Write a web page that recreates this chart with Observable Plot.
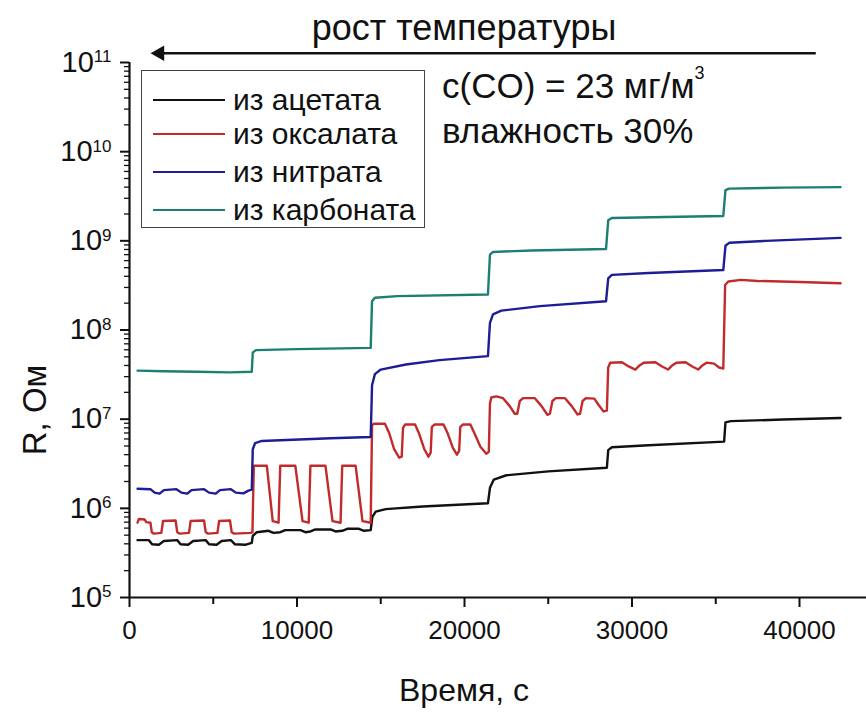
<!DOCTYPE html>
<html>
<head>
<meta charset="utf-8">
<script src="https://cdn.jsdelivr.net/npm/d3@7"></script>
<script src="https://cdn.jsdelivr.net/npm/@observablehq/plot@0.6"></script>
<style>
  body { margin: 0; background: #fff; }
  #wrap { position: relative; width: 866px; height: 718px; font-family: "Liberation Sans", Arial, sans-serif; color: #111; }
  #legend { position: absolute; left: 141px; top: 70px; width: 284px; height: 158px; border: 1.3px solid #444; box-sizing: border-box; background: #fff; }
  .item { position: absolute; left: 11px; height: 34px; display: flex; align-items: center; font-size: 30px; white-space: nowrap; }
  .swatch { width: 72px; height: 0; border-top: 2px solid; margin-right: 8px; }
  .note { position: absolute; font-size: 35px; line-height: 38px; white-space: nowrap; }
  .note sup { font-size: 18px; position: relative; top: -6px; line-height: 0; }
</style>
</head>
<body>
<div id="wrap"></div>
<script>
// ---- data (time, s ; R, Ohm) ----
const seriesNames = ["из ацетата", "из оксалата", "из нитрата", "из карбоната"];
const seriesColors = ["#111111", "#c12b2b", "#1d1d96", "#1c7f73"];

const acetate = [
  [480,4.4e5],[1150,4.4e5],[1350,3.95e5],[1750,3.9e5],[2050,4.3e5],[2850,4.4e5],[3050,3.95e5],[3500,3.9e5],
  [3800,4.3e5],[4550,4.4e5],[4750,3.95e5],[5200,3.9e5],[5500,4.3e5],[6050,4.4e5],[6300,3.95e5],[6900,3.9e5],[7300,4.1e5],
  [7360,4.9e5],[7600,5.4e5],[8300,5.6e5],[8600,5.3e5],[9000,5.4e5],[9300,5.7e5],[10200,5.7e5],[10500,5.4e5],
  [10800,5.5e5],[11100,5.8e5],[12000,5.8e5],[12300,5.5e5],[12700,5.6e5],[13000,5.9e5],[13700,5.9e5],[14000,5.6e5],[14400,5.7e5],
  [14500,8.0e5],[14700,9.2e5],[15300,9.8e5],[17500,1.05e6],[21400,1.14e6],
  [21520,1.7e6],[21750,2.1e6],[22500,2.35e6],[25000,2.6e6],[28500,2.85e6],
  [28580,4.5e6],[28800,4.85e6],[31000,5.1e6],[35500,5.6e6],
  [35580,9.2e6],[35900,9.5e6],[39000,9.9e6],[42450,1.03e7]
];

const oxalate = [
  [480,6.9e5],[560,7.6e5],[900,7.5e5],[1000,7.0e5],[1250,6.9e5],[1330,5.4e5],[1450,5.2e5],[1900,5.3e5],
  [2000,7.2e5],[2750,7.3e5],[2850,5.4e5],[3000,5.2e5],[3550,5.3e5],[3650,7.2e5],[4450,7.3e5],[4550,5.4e5],
  [4700,5.2e5],[5250,5.3e5],[5350,7.2e5],[6000,7.3e5],[6100,5.4e5],[6250,5.2e5],[7250,5.3e5],
  [7340,5.4e5],[7420,3.0e6],[8200,3.0e6],[8550,7.2e5],[8900,6.9e5],[9000,3.0e6],[9900,3.0e6],[10330,7.2e5],
  [10700,6.9e5],[10800,3.0e6],[11700,3.0e6],[12120,7.2e5],[12600,6.9e5],[12700,3.0e6],[13500,3.0e6],
  [13910,7.2e5],[14400,6.9e5],
  [14480,8.5e6],[14600,8.9e6],[15250,8.9e6],[15500,7.0e6],[15800,4.6e6],[16100,3.7e6],[16250,3.8e6],
  [16330,8.0e6],[16450,8.7e6],[17050,8.7e6],[17300,6.8e6],[17600,4.6e6],[17850,3.8e6],[17980,4.2e6],
  [18050,8.2e6],[18200,8.7e6],[18750,8.7e6],[19000,6.9e6],[19300,4.8e6],[19550,4.0e6],[19680,4.4e6],
  [19750,8.2e6],[19900,8.7e6],[20350,8.7e6],[20600,6.9e6],[20950,4.9e6],[21300,4.1e6],[21450,4.3e6],
  [21520,1.5e7],[21600,1.75e7],[21900,1.8e7],[22300,1.72e7],[22700,1.4e7],[23000,1.15e7],[23150,1.15e7],
  [23300,1.6e7],[23500,1.72e7],[24200,1.72e7],[24600,1.4e7],[24950,1.12e7],[25100,1.15e7],[25250,1.6e7],
  [25450,1.72e7],[26000,1.72e7],[26400,1.4e7],[26750,1.13e7],[26900,1.15e7],[27050,1.6e7],[27250,1.72e7],
  [27750,1.7e7],[28000,1.45e7],[28300,1.22e7],[28500,1.25e7],
  [28580,3.8e7],[28700,4.3e7],[29400,4.35e7],[29800,3.9e7],[30200,3.6e7],[30450,4.0e7],[30700,4.3e7],
  [31400,4.35e7],[31800,3.9e7],[32150,3.6e7],[32400,4.0e7],[32650,4.3e7],[33200,4.35e7],[33600,3.9e7],
  [33950,3.6e7],[34200,4.0e7],[34450,4.3e7],[34900,4.2e7],[35200,3.8e7],[35450,3.7e7],
  [35560,3.2e8],[35750,3.5e8],[36500,3.65e8],[37500,3.55e8],[40000,3.45e8],[42450,3.35e8]
];

const nitrate = [
  [480,1.66e6],[1250,1.64e6],[1500,1.5e6],[1800,1.46e6],[2050,1.6e6],[2800,1.64e6],[3100,1.5e6],[3450,1.46e6],
  [3700,1.6e6],[4450,1.64e6],[4750,1.5e6],[5150,1.46e6],[5400,1.6e6],[6050,1.64e6],[6350,1.5e6],[6800,1.47e6],
  [7100,1.58e6],[7300,1.62e6],
  [7360,4.6e6],[7500,5.4e6],[7900,5.7e6],[9000,5.8e6],[10500,5.95e6],[12000,6.1e6],[14400,6.3e6],
  [14480,2.4e7],[14650,3.2e7],[15000,3.6e7],[16500,4.1e7],[18500,4.6e7],[21400,5.1e7],
  [21520,1.2e8],[21700,1.5e8],[22200,1.65e8],[24500,1.85e8],[28450,2.1e8],
  [28580,3.8e8],[28800,4.15e8],[31000,4.35e8],[35450,4.7e8],
  [35580,8.8e8],[35800,9.5e8],[38000,1.0e9],[42450,1.08e9]
];

const carbonate = [
  [480,3.5e7],[2000,3.45e7],[4000,3.4e7],[6000,3.35e7],[7300,3.4e7],
  [7360,5.6e7],[7550,5.95e7],[10000,6.1e7],[14400,6.3e7],
  [14480,2.1e8],[14650,2.3e8],[16000,2.4e8],[21400,2.5e8],
  [21520,7.0e8],[21700,7.5e8],[24000,7.8e8],[28450,8.1e8],
  [28580,1.7e9],[28800,1.8e9],[32000,1.85e9],[35450,1.9e9],
  [35580,3.7e9],[35800,3.85e9],[39000,3.95e9],[42450,4.0e9]
];

const xTicks = [0, 10000, 20000, 30000, 40000];
const xMinorTicks = [5000, 15000, 25000, 35000];
const yTicks = [1e5, 1e6, 1e7, 1e8, 1e9, 1e10, 1e11];
const yMinorMultipliers = [2, 3, 4, 5, 6, 7, 8, 9];

const titleText = "рост температуры";
const xLabel = "Время, с";
const yLabel = "R, Ом";
const arrowFrom = 41000, arrowTo = 1800, arrowLevel = 1.27e11;

// ---- build table ----
const allSeries = [acetate, oxalate, nitrate, carbonate];
const rows = [];
allSeries.forEach((s, i) => s.forEach(([t, r]) => rows.push({t, r, name: seriesNames[i]})));
const yMinorTicks = [];
yTicks.slice(0, -1).forEach(d => yMinorMultipliers.forEach(m => yMinorTicks.push(d * m)));

const font = "Liberation Sans, Arial, sans-serif";

const chart = Plot.plot({
  width: 866,
  height: 718,
  marginLeft: 129,
  marginRight: 0,
  marginTop: 62,
  marginBottom: 121,
  style: {fontFamily: font, color: "#111", background: "#fff", overflow: "visible"},
  x: {domain: [0, 44000]},
  y: {type: "log", domain: [1e5, 1e11]},
  color: {domain: seriesNames, range: seriesColors},
  marks: [
    Plot.axisX({ticks: xTicks, tickSize: 10, tickPadding: 13, fontSize: 26, strokeWidth: 2, tickFormat: d => String(d), label: null}),
    Plot.axisX({ticks: xMinorTicks, tickSize: 7, strokeWidth: 2, tickFormat: () => "", label: null}),
    Plot.axisY({ticks: yTicks, tickSize: 9, tickPadding: 9, fontSize: 29, strokeWidth: 2, tickFormat: d => "10^" + Math.round(Math.log10(d)), label: null}),
    Plot.axisY({ticks: yMinorTicks, tickSize: 5, strokeWidth: 1.3, tickFormat: () => "", label: null}),
    Plot.ruleX([0], {stroke: "#111", strokeWidth: 2.2}),
    Plot.ruleY([1e5], {stroke: "#111", strokeWidth: 2.2}),
    Plot.line(rows, {x: "t", y: "r", z: "name", stroke: "name", strokeWidth: 2.4, strokeLinejoin: "round"}),
    Plot.ruleY([arrowLevel], {x1: arrowFrom, x2: arrowTo, stroke: "#111", strokeWidth: 2.4}),
    Plot.dot([arrowTo], {x: d => d, y: arrowLevel, symbol: "triangle2", r: 7.5, fill: "#111", stroke: "none", rotate: -90}),
    Plot.text([titleText], {frameAnchor: "top", lineAnchor: "middle", dx: -34, dy: -34, fontSize: 36, fill: "#111"}),
    Plot.text([xLabel], {frameAnchor: "bottom", lineAnchor: "middle", dx: -34, dy: 93, fontSize: 32, fill: "#111"}),
    Plot.text([yLabel], {frameAnchor: "left", lineAnchor: "middle", textAnchor: "middle", rotate: -90, dx: -94, dy: 80, fontSize: 33, fill: "#111"})
  ]
});

// superscripts for log tick labels
d3.select(chart).selectAll('g[aria-label="y-axis tick label"] text').each(function () {
  const s = this.textContent;
  if (!s.includes("^")) return;
  const [base, exp] = s.split("^");
  const t = d3.select(this);
  t.text(null);
  t.append("tspan").text(base);
  t.append("tspan").attr("dy", "-0.55em").attr("font-size", "17px").text(exp);
});

const wrap = document.getElementById("wrap");
wrap.appendChild(chart);

// legend
const legend = document.createElement("div");
legend.id = "legend";
const tops = [12, 46, 84, 122];
seriesNames.forEach((n, i) => {
  const it = document.createElement("div");
  it.className = "item";
  it.style.top = tops[i] + "px";
  const sw = document.createElement("span");
  sw.className = "swatch";
  sw.style.borderColor = seriesColors[i];
  it.appendChild(sw);
  it.appendChild(document.createTextNode(n));
  legend.appendChild(it);
});
wrap.appendChild(legend);

// conditions note
const n1 = document.createElement("div");
n1.className = "note";
n1.style.left = "442px"; n1.style.top = "67px";
n1.innerHTML = "c(CO) = 23 мг/м<sup>3</sup>";
const n2 = document.createElement("div");
n2.className = "note";
n2.style.left = "442px"; n2.style.top = "112px";
n2.textContent = "влажность 30%";
wrap.appendChild(n1);
wrap.appendChild(n2);
</script>
</body>
</html>
